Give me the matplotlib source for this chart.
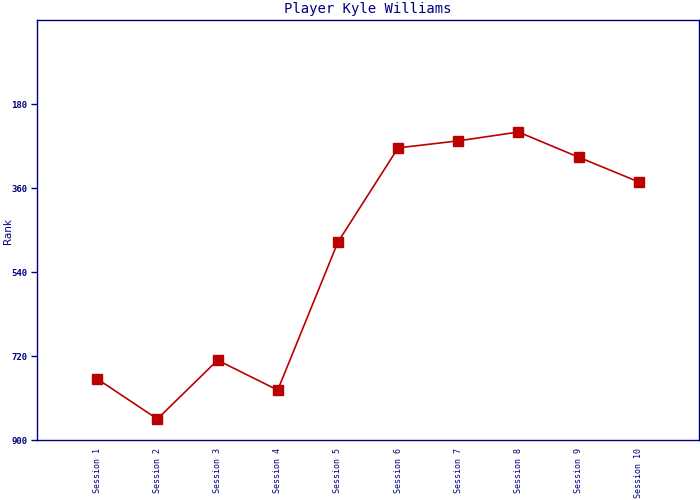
import matplotlib
matplotlib.use('Agg')
import matplotlib.pyplot as plt

sessions = ['Session 1', 'Session 2', 'Session 3', 'Session 4', 'Session 5',
            'Session 6', 'Session 7', 'Session 8', 'Session 9', 'Session 10']
ranks = [769, 855, 729, 793, 476, 274, 259, 240, 294, 347]
yticks = [180, 360, 540, 720, 900]

navy = '#000080'
red = '#bb0000'

fig = plt.figure(figsize=(7, 5), dpi=100)
ax = fig.add_axes([37/700, 0.12, 662/700, 0.84])

x = list(range(1, len(sessions) + 1))
ax.plot(x, ranks, color=red, lw=1.2, marker='s', ms=7, mec=red, mfc=red)

ax.set_xlim(0, 11)
ax.set_ylim(900, 0)
ax.set_xticks(x)
ax.set_xticklabels(sessions, rotation=90, fontsize=6, family='DejaVu Sans Mono', color=navy)
ax.tick_params(axis='x', length=0, pad=6)
ax.set_yticks(yticks)
ax.set_yticklabels([str(v) for v in yticks], fontsize=6.5, family='DejaVu Sans Mono',
                   color=navy, fontweight='bold')
ax.tick_params(axis='y', length=4, width=1, color=navy, direction='out', pad=3)

for s in ax.spines.values():
    s.set_color(navy)
    s.set_linewidth(1)

# y label placed by hand so it fits in the narrow left margin
fig.text(8/700, 1 - 231/500, 'Rank', rotation=90, fontsize=7.5, color=navy,
         ha='center', va='center')
ax.set_title('Player Kyle Williams', fontsize=10, family='DejaVu Sans Mono', color=navy, pad=5)

fig.savefig('out.png', dpi=100)
